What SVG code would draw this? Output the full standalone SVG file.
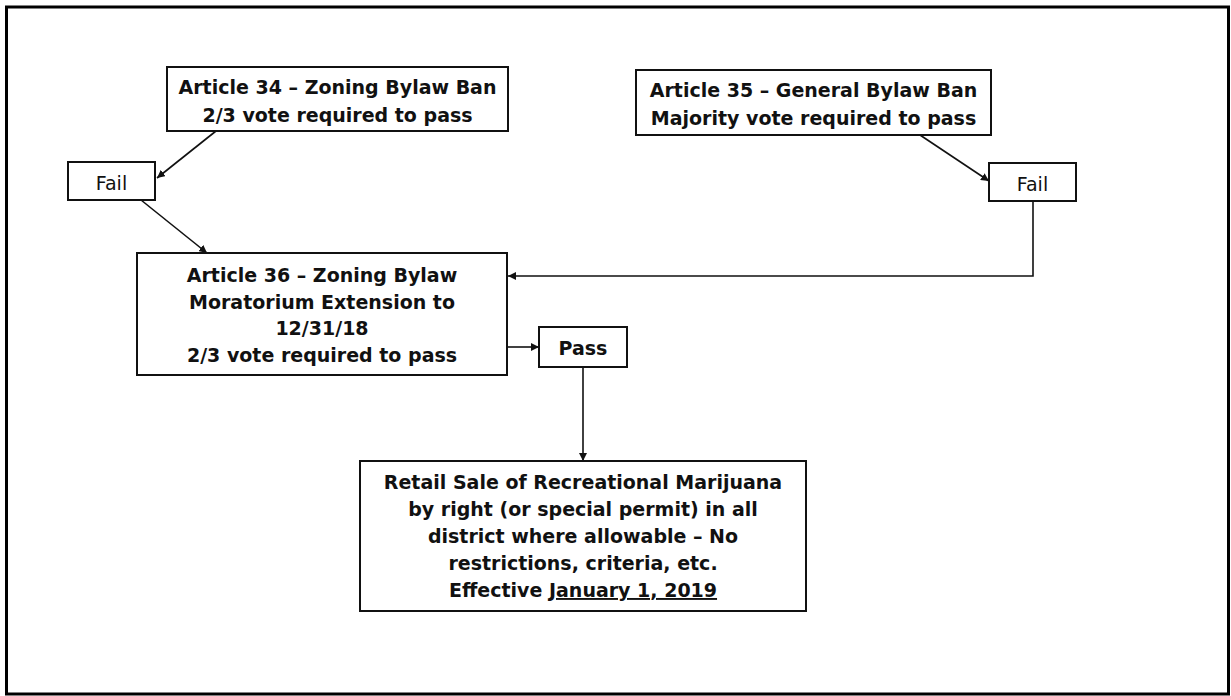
<svg xmlns="http://www.w3.org/2000/svg" width="1231" height="696" viewBox="0 0 1231 696">
  <style>
    .frame { fill: none; stroke: #000; stroke-width: 3; }
    .box { fill: #fff; stroke: #111; stroke-width: 2; }
    .label { font-family: "DejaVu Sans", "Liberation Sans", sans-serif; font-size: 19px; font-weight: bold; fill: #111; text-anchor: middle; }
    .light { font-weight: normal; }
    .edge { fill: none; stroke: #111; stroke-width: 1.6; }
    .u { text-decoration: underline; }
  </style>
  <defs>
    <marker id="arrow" viewBox="0 0 10 10" refX="10" refY="5" markerWidth="8" markerHeight="8" markerUnits="userSpaceOnUse" orient="auto">
      <path d="M0,0 L10,5 L0,10 z" fill="#111"/>
    </marker>
  </defs>

  <rect class="frame" x="6.5" y="7" width="1222" height="687"/>

  <g id="connectors">
    <line class="edge" x1="216" y1="131" x2="157" y2="178" marker-end="url(#arrow)"/>
    <line class="edge" x1="141" y1="200" x2="207" y2="253" marker-end="url(#arrow)"/>
    <line class="edge" x1="920" y1="135" x2="989" y2="181" marker-end="url(#arrow)"/>
    <polyline class="edge" points="1033,201 1033,276 508,276" marker-end="url(#arrow)"/>
    <line class="edge" x1="507" y1="347" x2="539" y2="347" marker-end="url(#arrow)"/>
    <line class="edge" x1="583" y1="367" x2="583" y2="461" marker-end="url(#arrow)"/>
  </g>

  <g id="article34">
    <rect class="box" x="167" y="67" width="341" height="64"/>
    <text class="label" x="337.5" y="93.5">Article 34 – Zoning Bylaw Ban</text>
    <text class="label" x="337.5" y="121.5">2/3 vote required to pass</text>
  </g>

  <g id="article35">
    <rect class="box" x="636" y="70" width="355" height="65"/>
    <text class="label" x="813.5" y="96.5">Article 35 – General Bylaw Ban</text>
    <text class="label" x="813.5" y="124.5">Majority vote required to pass</text>
  </g>

  <g id="fail34">
    <rect class="box" x="68" y="162" width="87" height="38"/>
    <text class="label light" x="111.5" y="190">Fail</text>
  </g>

  <g id="fail35">
    <rect class="box" x="989" y="163" width="87" height="38"/>
    <text class="label light" x="1032.5" y="191">Fail</text>
  </g>

  <g id="article36">
    <rect class="box" x="137" y="253" width="370" height="122"/>
    <text class="label" x="322" y="282">Article 36 – Zoning Bylaw</text>
    <text class="label" x="322" y="308.5">Moratorium Extension to</text>
    <text class="label" x="322" y="335">12/31/18</text>
    <text class="label" x="322" y="361.5">2/3 vote required to pass</text>
  </g>

  <g id="pass">
    <rect class="box" x="539" y="327" width="88" height="40"/>
    <text class="label" x="583" y="355">Pass</text>
  </g>

  <g id="retail">
    <rect class="box" x="360" y="461" width="446" height="150"/>
    <text class="label" x="583" y="489">Retail Sale of Recreational Marijuana</text>
    <text class="label" x="583" y="516">by right (or special permit) in all</text>
    <text class="label" x="583" y="543">district where allowable – No</text>
    <text class="label" x="583" y="570">restrictions, criteria, etc.</text>
    <text class="label" x="583" y="597">Effective <tspan class="u">January 1, 2019</tspan></text>
  </g>
</svg>
